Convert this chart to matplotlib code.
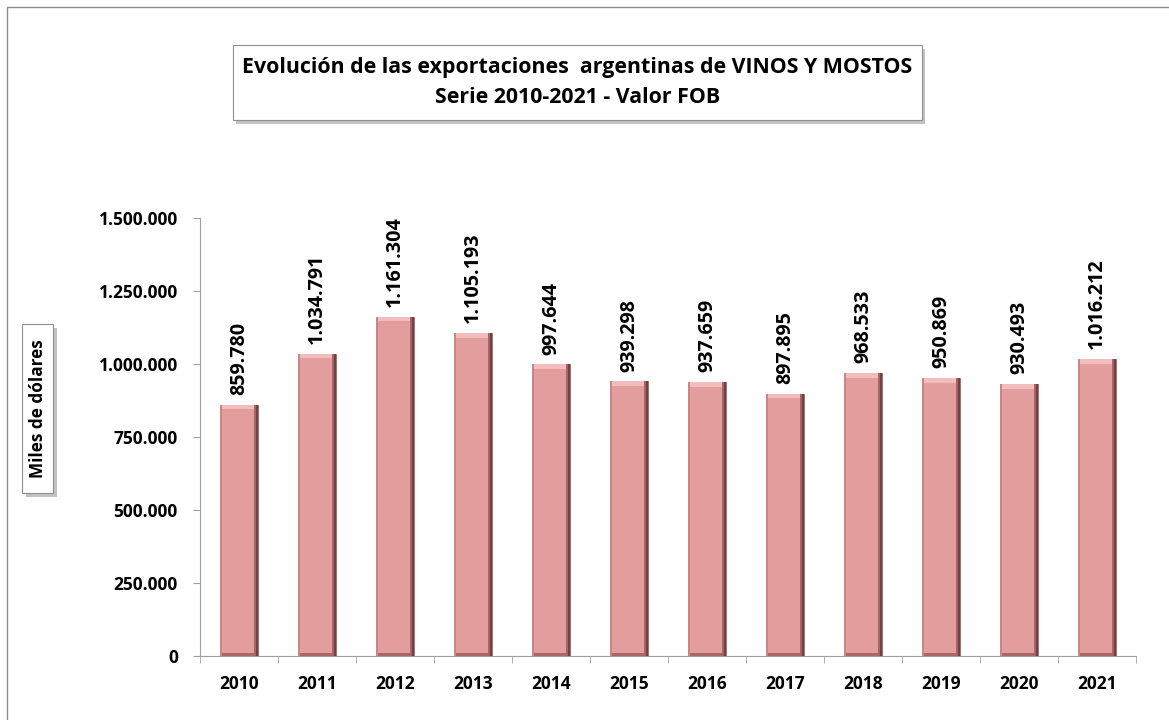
import numpy as np
import matplotlib.pyplot as plt
from matplotlib.patches import Rectangle

years = ["2010", "2011", "2012", "2013", "2014", "2015",
         "2016", "2017", "2018", "2019", "2020", "2021"]
valores = [859780, 1034791, 1161304, 1105193, 997644, 939298,
           937659, 897895, 968533, 950869, 930493, 1016212]
etiquetas = ["859.780", "1.034.791", "1.161.304", "1.105.193", "997.644", "939.298",
             "937.659", "897.895", "968.533", "950.869", "930.493", "1.016.212"]
yticks = [0, 250000, 500000, 750000, 1000000, 1250000, 1500000]
ytick_labels = ["0", "250.000", "500.000", "750.000", "1.000.000", "1.250.000", "1.500.000"]

plt.rcParams['font.family'] = ['Open Sans', 'DejaVu Sans']

fig = plt.figure(figsize=(11.69, 7.2), dpi=100, facecolor='w')
ax = fig.add_axes([0.1711, 0.0893, 0.8007, 0.6083])

x = np.arange(len(years))
v = np.array(valores)
w = 0.48
ax.bar(x, v, width=w, color='#E39D9D', edgecolor='#9a6060', linewidth=0.6, zorder=2)
# bevel look: light top, dark right side and bottom, slightly darker left edge
ax.bar(x, [16000]*len(x), bottom=v - 16000, width=w, color='#F2BDBD', linewidth=0, zorder=3)
ax.bar(x, [9000]*len(x), width=w, color='#A86868', linewidth=0, zorder=3)
ax.bar(x + w/2 - 0.04, v, width=0.025, color='#A36565', linewidth=0, zorder=4)
ax.bar(x + w/2 - 0.0135, v, width=0.027, color='#6E4343', linewidth=0, zorder=4)
ax.bar(x - w/2 + 0.01, v, width=0.02, color='#C98686', linewidth=0, zorder=4)

for xi, val, lab in zip(x, valores, etiquetas):
    ax.annotate(lab, (xi, val), xytext=(0, 7), textcoords='offset points',
                rotation=90, ha='center', va='bottom', fontsize=14.2,
                fontweight='bold', color='black')

ax.set_xlim(-0.5, len(years) - 0.5)
ax.set_ylim(0, 1500000)
ax.set_yticks(yticks)
ax.set_yticklabels(ytick_labels, fontsize=12.5, fontweight='bold')
ax.set_xticks(x)
ax.set_xticklabels(years, fontsize=12.5, fontweight='bold')
ax.tick_params(axis='x', length=0, pad=14)
ax.tick_params(axis='y', length=5, color='#a0a0a0', pad=11)
ax.set_xticks(np.arange(-0.5, len(years)), minor=True)
ax.tick_params(axis='x', which='minor', length=5, color='#a0a0a0')
for s in ['top', 'right']:
    ax.spines[s].set_visible(False)
for s in ['left', 'bottom']:
    ax.spines[s].set_color('#a0a0a0')

# outer border of the chart
fig.patches.append(Rectangle((0.006, -0.01), 1.2, 1.0, transform=fig.transFigure,
                             fill=False, edgecolor='#8c8c8c', linewidth=1.0))

# title box with shadow
fig.patches.append(Rectangle((0.2023, 0.8280), 0.5894, 0.1042, transform=fig.transFigure,
                             facecolor='#9a9a9a', edgecolor='none', alpha=0.6))
fig.patches.append(Rectangle((0.1993, 0.8333), 0.5894, 0.1042, transform=fig.transFigure,
                             facecolor='white', edgecolor='#909090', linewidth=0.8))
fig.text(0.494, 0.8854, "Evolución de las exportaciones  argentinas de VINOS Y MOSTOS\nSerie 2010-2021 - Valor FOB",
         ha='center', va='center', fontsize=15.4, fontweight='bold', linespacing=1.55)

# y label box with shadow
fig.patches.append(Rectangle((0.0220, 0.3100), 0.0265, 0.2347, transform=fig.transFigure,
                             facecolor='#9a9a9a', edgecolor='none', alpha=0.6))
fig.patches.append(Rectangle((0.0190, 0.3153), 0.0265, 0.2347, transform=fig.transFigure,
                             facecolor='white', edgecolor='#909090', linewidth=0.8))
fig.text(0.0322, 0.4326, "Miles de dólares", rotation=90, ha='center', va='center',
         fontsize=12.3, fontweight='bold')

fig.savefig('out.png', dpi=100)
